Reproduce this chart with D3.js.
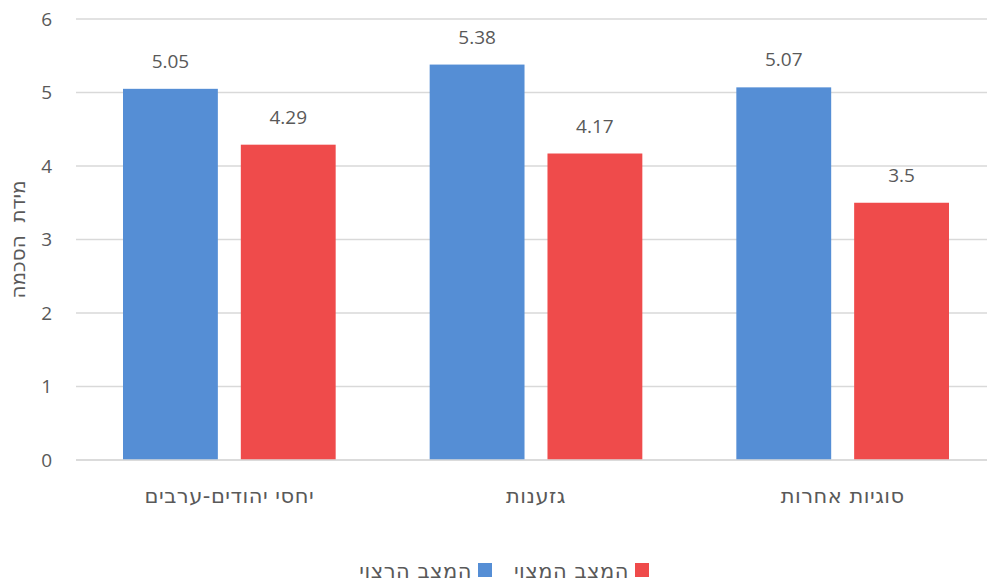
<!DOCTYPE html>
<html><head><meta charset="utf-8">
<script src="https://cdn.jsdelivr.net/npm/d3@7"></script>
<style>body{margin:0;background:#fff}text{font-family:"Open Sans","Liberation Sans","DejaVu Sans",sans-serif;fill:#595959}text.he{font-family:"DejaVu Sans",sans-serif}</style>
</head><body><svg id="c" width="987" height="583"></svg>
<script>
const categories = ["יחסי יהודים-ערבים", "גזענות", "סוגיות אחרות"];
const seriesNames = ["המצב הרצוי", "המצב המצוי"];
const desired = [5.05, 5.38, 5.07];
const actual = [4.29, 4.17, 3.5];
const yTicks = [0, 1, 2, 3, 4, 5, 6];
const colors = ["#558ED5", "#EF4B4B"];
const yTitle = "מידת  הסכמה";

(function () {
const svg = d3.select("#c");
const pl = 76, pr = 996, pt = 19, pb = 460;
const x = d3.scaleBand().domain(categories).range([pl, pr]).paddingInner(0).paddingOuter(0);
const y = d3.scaleLinear().domain([0, 6]).range([pb, pt]);
const inner = d3.scaleBand().domain([0, 1]).range([47, x.bandwidth() - 47]).paddingInner(23 / 118);

svg.append("g").selectAll("line").data(yTicks).join("line")
  .attr("x1", pl).attr("x2", pr).attr("y1", d => y(d)).attr("y2", d => y(d))
  .attr("stroke", "#d9d9d9").attr("stroke-width", 1.5);

svg.append("g").selectAll("text").data(yTicks).join("text")
  .attr("x", 52).attr("y", d => y(d)).attr("dy", "0.35em").attr("text-anchor", "end")
  .attr("font-size", 19).text(d => d);

const series = [desired, actual];
series.forEach((vals, si) => {
  const g = svg.append("g");
  g.selectAll("rect").data(vals).join("rect")
    .attr("x", (d, i) => x(categories[i]) + inner(si)).attr("width", inner.bandwidth())
    .attr("y", d => y(d)).attr("height", d => y(0) - y(d)).attr("fill", colors[si]);
  g.selectAll("text").data(vals).join("text")
    .attr("x", (d, i) => x(categories[i]) + inner(si) + inner.bandwidth() / 2)
    .attr("y", d => y(d) - 21).attr("text-anchor", "middle").attr("font-size", 19)
    .text(d => d);
});

svg.append("line").attr("x1", pl).attr("x2", pr).attr("y1", y(0)).attr("y2", y(0))
  .attr("stroke", "#d9d9d9").attr("stroke-width", 1.5);

svg.append("g").selectAll("text").data(categories).join("text").attr("class", "he")
  .attr("x", d => x(d) + x.bandwidth() / 2).attr("y", 503).attr("text-anchor", "middle")
  .attr("font-size", 21).attr("letter-spacing", 0.5).attr("direction", "rtl").text(d => d);

svg.append("text").attr("class", "he").attr("transform", `translate(25,${(pt + pb) / 2}) rotate(-90)`)
  .attr("text-anchor", "middle").attr("font-size", 20).attr("direction", "rtl")
  .attr("xml:space", "preserve").style("white-space", "pre").text(yTitle);

const legend = [
  { name: seriesNames[1], color: colors[1], sq: 635 },
  { name: seriesNames[0], color: colors[0], sq: 478 }
];
const lg = svg.append("g");
legend.forEach(l => {
  lg.append("rect").attr("x", l.sq).attr("y", 563).attr("width", 14).attr("height", 14).attr("fill", l.color);
  lg.append("text").attr("class", "he").attr("x", l.sq - 6).attr("y", 571).attr("dy", "0.35em").attr("text-anchor", "end")
    .attr("font-size", 21).attr("letter-spacing", 0.5).text(l.name);
});
})();
</script></body></html>
